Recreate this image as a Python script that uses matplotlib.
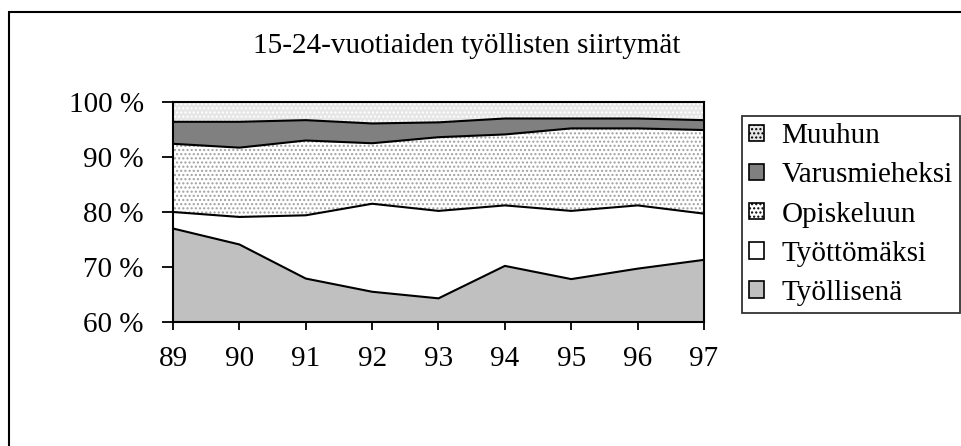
import matplotlib
matplotlib.use("Agg")
import matplotlib.pyplot as plt
from matplotlib.patches import Rectangle, Patch
import numpy as np

years = ["89", "90", "91", "92", "93", "94", "95", "96", "97"]
tyollisena = [77.0, 74.1, 67.9, 65.5, 64.3, 70.2, 67.8, 69.7, 71.3]
tyottomaksi = [3.0, 5.0, 11.5, 16.0, 15.9, 11.0, 12.4, 11.5, 8.4]
opiskeluun = [12.4, 12.6, 13.6, 11.0, 13.4, 12.9, 15.0, 14.0, 15.2]
varusmieheksi = [4.0, 4.7, 3.7, 3.6, 2.7, 2.9, 1.8, 1.8, 1.8]
muuhun = [3.6, 3.6, 3.3, 3.9, 3.7, 3.0, 3.0, 3.0, 3.3]

labels = ["Työllisenä", "Työttömäksi", "Opiskeluun", "Varusmieheksi", "Muuhun"]
series = [tyollisena, tyottomaksi, opiskeluun, varusmieheksi, muuhun]
faces = ["#c0c0c0", "#ffffff", "#ffffff", "#808080", "#e6e6e6"]
hatches = [None, None, "....", None, "...."]
hatch_cols = [None, None, "#a0a0a0", None, "#ffffff"]

plt.rcParams["font.family"] = ["Liberation Serif", "DejaVu Serif"]
plt.rcParams["hatch.linewidth"] = 1.0

fig = plt.figure(figsize=(9.62, 4.46), dpi=100)
fig.patches.append(Rectangle((9 / 962, -0.1), 1.1, (446 - 12) / 446 + 0.1,
                             transform=fig.transFigure, fill=False,
                             edgecolor="black", linewidth=1.5))
ax = fig.add_axes([173 / 962, (446 - 322) / 446, (704 - 173) / 962, 220 / 446])

x = np.arange(len(years))
data = np.array(series)
cum = np.cumsum(data, axis=0)
bottom = np.zeros(len(years))
handles = []
for i, lab in enumerate(labels):
    top = cum[i]
    if hatches[i]:
        ax.fill_between(x, bottom, top, facecolor=faces[i], edgecolor=hatch_cols[i],
                        hatch=hatches[i], linewidth=0)
    else:
        ax.fill_between(x, bottom, top, facecolor=faces[i], linewidth=0)
    if i < len(labels) - 1:
        ax.plot(x, top, color="black", linewidth=1.5)
    h = Patch(facecolor=faces[i], edgecolor="black", linewidth=1.2,
              hatch=hatches[i] if hatches[i] else None)
    handles.append(h)
    bottom = top

ax.set_xlim(0, len(years) - 1)
ax.set_ylim(60, 100)
ax.set_yticks([60, 70, 80, 90, 100])
ax.set_yticklabels([f"{v} %" for v in [60, 70, 80, 90, 100]])
ax.set_xticks(x)
ax.set_xticklabels(years)
ax.tick_params(axis="both", direction="out", width=1.3, labelsize=21,
               colors="black")
ax.tick_params(axis="x", length=6, pad=11)
ax.tick_params(axis="y", length=8, pad=13)
for s in ax.spines.values():
    s.set_linewidth(1.5)

fig.text(467 / 962, 1 - 46 / 446, "15-24-vuotiaiden työllisten siirtymät",
         ha="center", va="center", fontsize=21)

leg = fig.legend(handles[::-1], labels[::-1], loc="upper left",
                 bbox_to_anchor=(742 / 962, 1 - 116 / 446), fontsize=21,
                 frameon=True, fancybox=False, edgecolor="black",
                 handlelength=0.5, handleheight=0.5, handletextpad=0.6,
                 labelspacing=0.45, borderpad=0.25, borderaxespad=0)
leg.get_frame().set_linewidth(1.3)

fig.savefig("out.png", dpi=100)
